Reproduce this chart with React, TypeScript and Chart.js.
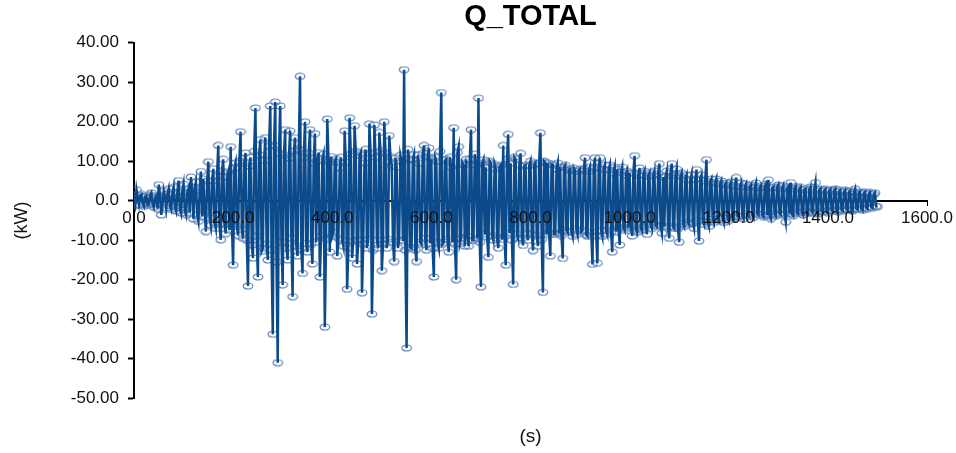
import React, { useEffect, useRef } from 'react';
import { Chart, registerables } from 'chart.js';

Chart.register(...registerables);

const TITLE = 'Q_TOTAL';
const X_TITLE = '(s)';
const Y_TITLE = '(kW)';
const SAMPLE_STEP = 5; // seconds between main samples

// Q_TOTAL (kW) at t = 0, 5, 10 ... 1500 s
const qTotal = [
  // 0 - 95
  0, 2.8, -1.0, 1.6, -1.4, 1.2, -0.9, 2.0, -1.6, 1.1, 4.1, -3.6, 2.4, -1.8, 3.0, -2.2, 3.4, -2.6, 5.1, -3.1,
  // 100 - 195
  4.2, -3.5, 3.1, 6.0, -4.6, 4.8, -5.2, 7.4, 5.5, -7.8, 9.9, -6.2, 8.1, -7.0, 14.0, -9.9, 10.5, -8.3, 7.2, 13.7,
  // 200 - 295
  -16.3, 9.6, -8.8, 17.5, -9.5, 12.1, -21.6, 11.0, -14.5, 23.5, -19.3, 15.5, -12.0, 16.0, -15.0, 24.0, -33.8, 25.0, -41.0, 24.0,
  // 300 - 395
  -21.3, 18.0, -15.0, 17.7, -24.3, 16.0, -14.0, 31.5, -18.4, 20.0, -13.0, 18.0, -16.0, 17.0, 10.0, -19.3, 10.5, -32.0, 20.7, -13.0,
  // 400 - 495
  -9.0, 9.9, -14.0, 8.3, -10.0, 17.7, -22.4, 21.0, -14.5, 19.0, -16.0, 11.5, -23.3, 9.6, -12.0, 19.5, -28.7, 19.2, -10.0, 17.3,
  // 500 - 595
  -17.7, 20.0, -12.0, 16.5, 9.0, -15.4, 8.5, -10.0, 10.0, 33.2, -37.3, 10.5, -12.0, 11.7, -15.4, 9.5, -11.0, 14.0, -12.5, 13.4,
  // 600 - 695
  10.5, -19.3, 10.0, -12.0, 27.4, -10.5, 10.5, -13.0, 8.5, 18.5, -20.0, 13.7, -9.5, 9.0, 10.5, -11.5, 18.0, -10.0, 9.0, 26.0,
  // 700 - 795
  -21.8, 10.4, 8.5, -14.3, 9.5, -10.0, 8.0, -12.0, 9.0, 14.0, -16.3, 16.8, 9.5, -21.2, 10.5, -9.5, 12.0, -11.3, 9.0, -10.0,
  // 800 - 895
  10.0, -12.6, 9.5, -11.5, 17.2, -23.2, 9.7, 9.5, -14.0, 9.0, -8.5, 9.5, 8.5, -14.6, 9.0, -8.0, 8.0, -9.0, 7.5, -8.5,
  // 900 - 995
  8.0, -7.5, 10.9, -9.0, 8.5, -16.1, 10.9, -15.8, 10.9, -9.0, 9.1, -8.5, 9.0, -13.0, 8.5, 8.0, -11.2, 8.5, -7.5, 7.5,
  // 1000 - 1095
  7.0, -8.9, 11.4, -8.0, 8.3, -7.5, 7.5, -8.5, 7.0, -7.0, 7.5, -6.5, 9.4, -8.2, -6.5, 7.5, -9.5, 9.4, -7.0, 8.0,
  // 1100 - 1195
  -10.5, 7.0, -6.5, 6.5, -6.0, 6.6, -7.0, 7.9, -10.2, 6.5, -6.0, 10.4, -6.5, 5.5, -5.5, 5.5, -5.0, 5.0, -5.5, 4.5,
  // 1200 - 1295
  -5.0, 4.8, -4.5, 5.9, -4.0, 4.5, -4.5, 4.2, -3.8, 4.0, -4.2, 4.5, -3.5, 3.8, -4.0, 4.2, 5.3, -4.5, 3.5, -3.8,
  // 1300 - 1395
  4.0, -3.5, 3.8, -5.4, 3.5, 4.6, -3.8, 3.6, -3.2, 3.4, -3.6, 3.0, -3.2, 3.5, -3.0, 4.6, -3.3, 3.0, -2.8, 2.9,
  // 1400 - 1500
  -3.0, 2.8, -2.6, 3.0, -2.8, 2.6, -2.5, 2.7, -2.4, 2.5, -2.6, 3.0, -2.2, 2.3, -2.4, 2.2, -2.0, 2.1, -1.8, 2.0, -1.5,
];

// Q_TOTAL (kW) at the in-between instants t = 2.5, 7.5 ... 1497.5 s
const qTotalMid = [
  // 0 - 100
  -1.2, 0.8, 1.3, -0.7, 0.9, -1.1, 1.4, -0.8, 0.6, -2.0, 1.5, -1.0, 0.9, 1.6, -1.3, 1.8, -1.5, 2.2, -1.9, 2.4,
  // 100 - 200
  -2.3, 2.0, -3.0, 1.8, 3.2, -3.5, 2.6, -4.0, -2.5, 5.0, -4.4, 5.1, -5.5, 6.2, -6.0, 7.5, -5.8, 6.0, -7.4, -6.0,
  // 200 - 300
  8.2, -6.5, 10.0, -7.2, 9.5, -10.0, 8.8, -11.2, 12.5, -9.0, 11.6, -12.8, 10.2, -11.0, 13.8, -12.5, 14.0, -15.5, 12.0, -10.5,
  // 300 - 400
  11.5, -12.0, 10.8, -9.5, 12.6, -11.5, 13.0, -12.2, 11.0, -10.8, 12.0, -11.0, 9.5, -10.5, 12.2, -9.0, 11.8, -9.6, 10.0, 11.2,
  // 400 - 500
  -8.0, 10.5, -9.5, 11.0, -11.5, 9.8, -12.0, 11.8, -10.2, 12.5, -10.0, 12.2, -11.0, 13.0, -9.8, 12.0, -12.5, 11.0, -12.0, 12.5,
  // 500 - 600
  -11.0, 12.0, -9.8, 11.2, -10.5, 10.8, -12.0, 11.5, -10.2, -12.5, 13.0, -11.8, 10.4, -12.5, 11.5, -10.5, 12.0, -9.5, 11.2, -10.8,
  // 600 - 700
  -12.0, 11.0, -10.5, 12.5, -11.0, 10.2, -9.8, 11.0, -10.5, -11.0, 12.2, -10.8, 9.6, -11.5, -9.0, 10.5, -10.0, 11.8, -9.5, -10.5,
  // 700 - 800
  9.5, -8.5, -9.2, 10.0, -8.8, 9.2, -9.5, 8.5, -9.8, -9.0, 10.5, -8.2, -10.0, 11.0, -8.5, 9.0, -9.5, 8.8, -8.2, 9.0,
  // 800 - 900
  -8.5, 9.0, -8.8, 9.5, -9.8, 10.0, -8.5, -8.0, 9.2, -8.5, 8.0, -8.2, -8.8, 8.5, -7.5, 7.8, -7.8, 8.2, -7.2, 7.6,
  // 900 - 1000
  -7.8, 8.0, -8.6, 7.5, -8.0, 8.2, -8.8, 8.5, -7.6, 8.0, -7.5, 7.8, -8.0, 7.0, -7.8, -7.0, 7.2, -6.8, 6.5, -6.8,
  // 1000 - 1100
  -6.5, 7.0, -7.2, 6.5, -6.8, 6.6, -6.5, 6.2, -6.0, 6.4, -6.2, 6.8, -6.5, 6.0, 6.2, -6.8, 7.0, -6.5, 6.4, -7.0,
  // 1100 - 1200
  6.2, -5.8, 5.6, -5.5, 5.2, -5.6, 5.5, -5.0, 5.6, -5.2, 5.0, -5.4, 4.8, -4.6, 4.5, -4.5, 4.2, -4.4, 4.0, -4.2,
  // 1200 - 1300
  4.0, -4.2, 3.8, -3.8, 3.6, -3.9, 3.5, -3.4, 3.6, -3.5, 3.4, -3.2, 3.3, -3.5, 3.6, -3.6, -3.8, 3.2, -3.3, 3.4,
  // 1300 - 1400
  -3.2, 3.0, -3.5, 3.0, -3.2, -3.4, 3.0, -2.8, 2.9, -2.9, 2.8, -2.7, 2.9, -2.8, 2.7, -3.0, 2.6, -2.5, 2.5, -2.6,
  // 1400 - 1500
  2.4, -2.3, 2.5, -2.4, 2.3, -2.2, 2.2, -2.1, 2.2, -2.3, 2.1, -2.0, 2.0, -1.9, 1.9, -1.8, 1.7, -1.6, 1.6, -1.4,
];

const xTickValues = [0, 200, 400, 600, 800, 1000, 1200, 1400, 1600];
const xTickLabels = ['0.0', '200.0', '400.0', '600.0', '800.0', '1000.0', '1200.0', '1400.0', '1600.0'];
const yTickValues = [40, 30, 20, 10, 0, -10, -20, -30, -40, -50];
const yTickLabels = ['40.00', '30.00', '20.00', '10.00', '0.0', '-10.00', '-20.00', '-30.00', '-40.00', '-50.00'];

const FONT = "Arial, 'Liberation Sans', Helvetica, sans-serif";
const LINE_COLOR = '#0b4a8b';
const MARKER_COLOR = '#5f84bd';
const TEXT_COLOR = '#111111';

function makeEllipseMarker(): HTMLCanvasElement {
  const c = document.createElement('canvas');
  c.width = 12;
  c.height = 8;
  const ctx = c.getContext('2d')!;
  ctx.strokeStyle = MARKER_COLOR;
  ctx.lineWidth = 1.2;
  ctx.beginPath();
  ctx.ellipse(6, 4, 4.8, 3, 0, 0, Math.PI * 2);
  ctx.stroke();
  return c;
}

export default function App() {
  const ref = useRef<HTMLCanvasElement>(null);

  useEffect(() => {
    if (!ref.current) return;
    const points: { x: number; y: number }[] = [];
    qTotal.forEach((v, i) => {
      points.push({ x: i * SAMPLE_STEP, y: v });
      if (i < qTotalMid.length) points.push({ x: i * SAMPLE_STEP + SAMPLE_STEP / 2, y: qTotalMid[i] });
    });
    const marker = makeEllipseMarker();
    const chart = new Chart(ref.current, {
      type: 'line',
      data: {
        datasets: [
          {
            data: points,
            borderColor: LINE_COLOR,
            borderWidth: 2.5,
            pointRadius: 0,
            tension: 0,
            fill: false,
            order: 0,
          },
          {
            data: points,
            showLine: false,
            pointStyle: marker as any,
            pointRadius: 4,
            order: 1,
          },
        ],
      },
      options: {
        animation: false,
        responsive: true,
        maintainAspectRatio: false,
        layout: { padding: { left: 0, right: 29, top: 0, bottom: 0 } },
        plugins: {
          legend: { display: false },
          tooltip: { enabled: false },
          title: {
            display: true,
            text: TITLE,
            fullSize: false,
            color: '#000',
            font: { family: FONT, size: 29, weight: 'bold' },
            padding: { top: 0, bottom: 8 },
          },
          subtitle: {
            display: true,
            position: 'bottom',
            text: X_TITLE,
            fullSize: false,
            color: TEXT_COLOR,
            font: { family: FONT, size: 19 },
            padding: { top: 27, bottom: 5 },
          },
        },
        scales: {
          x: {
            type: 'linear',
            position: { y: 0 },
            min: 0,
            max: 1600,
            ticks: {
              stepSize: 200,
              autoSkip: false,
              maxRotation: 0,
              padding: 3,
              z: 1,
              color: TEXT_COLOR,
              font: { family: FONT, size: 17 },
              callback: (v: any) => {
                const i = xTickValues.indexOf(Number(v));
                return i >= 0 ? xTickLabels[i] : '';
              },
            },
            grid: { drawOnChartArea: false, drawTicks: true, tickLength: 4, color: '#000', tickWidth: 1 },
            border: { color: '#000', width: 2 },
            afterFit: (s: any) => { s.height = 0; },
          },
          y: {
            type: 'linear',
            position: 'left',
            min: -50,
            max: 40,
            ticks: {
              stepSize: 10,
              padding: 9,
              color: TEXT_COLOR,
              font: { family: FONT, size: 17 },
              callback: (v: any) => {
                const i = yTickValues.indexOf(Number(v));
                return i >= 0 ? yTickLabels[i] : '';
              },
            },
            title: {
              display: true,
              text: Y_TITLE,
              color: TEXT_COLOR,
              font: { family: FONT, size: 18 },
              padding: { top: 11, bottom: 0 },
            },
            grid: { drawOnChartArea: false, drawTicks: true, tickLength: 6, color: '#000', tickWidth: 2 },
            border: { color: '#000', width: 2 },
            afterFit: (s: any) => { s.width = 134; },
          },
        },
      },
    });
    return () => chart.destroy();
  }, []);

  return (
    <div style={{ position: 'fixed', left: 0, top: 0, width: 956, height: 453, background: '#fff' }}>
      <canvas ref={ref} />
    </div>
  );
}
